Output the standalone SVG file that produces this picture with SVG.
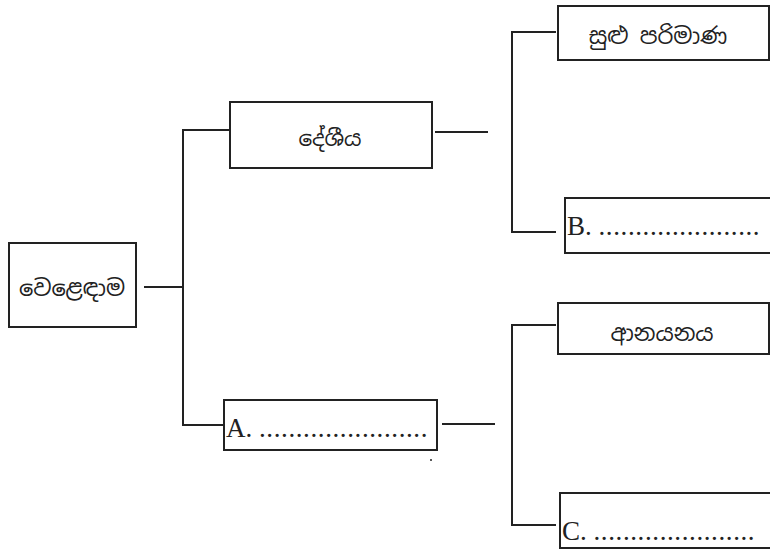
<svg xmlns="http://www.w3.org/2000/svg" width="770" height="550" viewBox="0 0 770 550">
<style>
.box{fill:#fff;stroke:#222;stroke-width:2}
.con{fill:none;stroke:#222;stroke-width:2}
.si{font-family:"Noto Sans Sinhala","Iskoola Pota","Noto Serif Sinhala","Noto Sans",sans-serif;font-size:22.5px;fill:#222;text-anchor:middle}
.lat{font-family:"Liberation Serif","Times New Roman",serif;font-size:27px;fill:#222}
.dots{letter-spacing:0.6px}
</style>
<rect width="770" height="550" fill="#fff"/>
<g id="connectors">
<line class="con" x1="144" y1="287" x2="183" y2="287"/>
<polyline class="con" points="230,130 183,130 183,425 224,425"/>
<line class="con" x1="435" y1="132" x2="488" y2="132"/>
<line class="con" x1="442" y1="424" x2="495" y2="424"/>
<polyline class="con" points="556,32 512,32 512,232 556,232"/>
<polyline class="con" points="556,325 512,325 512,525 556,525"/>
</g>
<g id="n-trade">
<rect class="box" x="9" y="243" width="127" height="84"/>
<text class="si" x="72" y="296">වෙළෙඳාම</text>
</g>
<g id="n-domestic">
<rect class="box" x="230" y="102" width="202" height="66"/>
<text class="si" x="330" y="146" style="font-size:21.5px">දේශීය</text>
</g>
<g id="n-a">
<rect class="box" x="224" y="400" width="213" height="50"/>
<text class="lat" x="226" y="437">A. <tspan class="dots">.......................</tspan></text>
<circle cx="431" cy="460" r="1" fill="#222"/>
</g>
<g id="n-small">
<rect class="box" x="558" y="6" width="211" height="54"/>
<text class="si" x="658" y="44">සුළු පරිමාණ</text>
</g>
<g id="n-b">
<rect class="box" x="565" y="198" width="215" height="55"/>
<text class="lat" x="567" y="235">B. <tspan class="dots">......................</tspan></text>
</g>
<g id="n-import">
<rect class="box" x="558" y="303" width="211" height="51"/>
<text class="si" x="662" y="341">ආනයනය</text>
</g>
<g id="n-c">
<rect class="box" x="560" y="493" width="220" height="55"/>
<text class="lat" x="562" y="540">C. <tspan class="dots">......................</tspan></text>
</g>
</svg>
